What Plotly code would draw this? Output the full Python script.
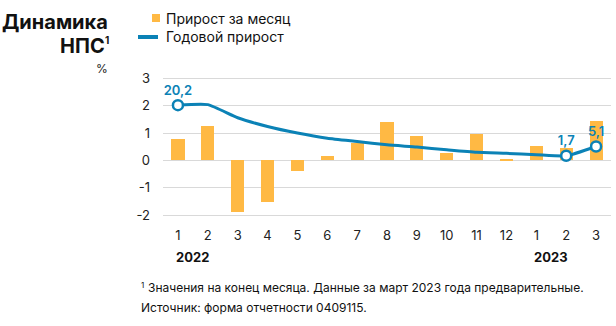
import plotly.graph_objects as go

months = ["1", "2", "3", "4", "5", "6", "7", "8", "9", "10", "11", "12", "1", "2", "3"]
years = ["2022", "2023"]
year_start_idx = [0, 12]
monthly_growth = [0.8, 1.25, -1.9, -1.53, -0.4, 0.16, 0.62, 1.4, 0.91, 0.28, 0.97, 0.04, 0.52, 0.45, 1.43]
annual_growth = [20.2, 20.4, 15.6, 12.4, 10.0, 8.1, 6.9, 5.7, 4.9, 3.9, 3.0, 2.6, 2.1, 1.7, 5.1]
labelled_idx = [0, 13, 14]

BAR = "#FFB944"
BLUE = "#0B82B6"
FONT = "Inter"
W, H = 616, 326
ML, MR, MT, MB = 163, 5, 77, 104
PW, PH = W - ML - MR, H - MT - MB

def px(x):
    return (x - ML) / PW

def py(y):
    return (H - MB - y) / PH

x = list(range(len(months)))
fig = go.Figure()
fig.add_trace(go.Bar(x=x, y=monthly_growth, marker=dict(color=BAR, line_width=0),
                     width=0.44, showlegend=False, hoverinfo="skip"))
fig.add_trace(go.Scatter(x=x, y=annual_growth, yaxis="y2", mode="lines",
                         line=dict(color=BLUE, width=3, shape="spline", smoothing=0.5),
                         showlegend=False, hoverinfo="skip"))
fig.add_trace(go.Scatter(x=[x[i] for i in labelled_idx], y=[annual_growth[i] for i in labelled_idx],
                         yaxis="y2", mode="markers+text",
                         marker=dict(size=10, color="white", line=dict(color=BLUE, width=2.5)),
                         text=[f"{annual_growth[i]:.1f}".replace(".", ",") for i in labelled_idx],
                         textposition="top center",
                         textfont=dict(family=FONT, size=13, color=BLUE, weight=600),
                         showlegend=False, hoverinfo="skip", cliponaxis=False))

yr = [-2.25, 3.05]
fig.update_layout(
    width=W, height=H, margin=dict(l=ML, r=MR, t=MT, b=MB),
    plot_bgcolor="white", paper_bgcolor="white",
    font=dict(family=FONT, size=13, color="#222222"),
    bargap=0,
    xaxis=dict(range=[-0.5, len(months) - 0.5], tickvals=x, ticktext=months,
               showgrid=False, zeroline=False, showline=False, ticks="",
               ticklabelstandoff=4, tickfont=dict(size=13)),
    yaxis=dict(range=yr, tickvals=[-2, -1, 0, 1, 2, 3], ticktext=["-2", "-1", "0", "1", "2", "3"],
               showgrid=True, gridcolor="#D9D9D9", gridwidth=1, zeroline=False,
               showline=False, ticks="", ticklabelstandoff=12, tickfont=dict(size=13)),
    yaxis2=dict(range=[v * 10 for v in yr], overlaying="y", visible=False),
)

ann = []
for yl, i in zip(years, year_start_idx):
    ann.append(dict(x=i, xref="x", y=py(257), yref="paper", text=f"<b>{yl}</b>",
                    showarrow=False, xanchor="left", yanchor="middle", xshift=-4,
                    font=dict(size=13, color="#111111")))
ann.append(dict(x=px(110), y=py(22), xref="paper", yref="paper", text="<b>Динамика</b>",
                showarrow=False, xanchor="right", yanchor="middle", font=dict(size=20, color="#111111")))
ann.append(dict(x=px(107), y=py(46), xref="paper", yref="paper", text="<b>НПС</b>",
                showarrow=False, xanchor="right", yanchor="middle", font=dict(size=20, color="#111111")))
ann.append(dict(x=px(103), y=py(40), xref="paper", yref="paper", text="<b>1</b>",
                showarrow=False, xanchor="left", yanchor="middle", font=dict(size=10, color="#111111")))
ann.append(dict(x=px(110), y=py(68), xref="paper", yref="paper", text="%",
                showarrow=False, xanchor="right", yanchor="middle", font=dict(size=12, color="#222222")))
ann.append(dict(x=px(164), y=py(18), xref="paper", yref="paper", text="Прирост за месяц",
                showarrow=False, xanchor="left", yanchor="middle", font=dict(size=14, color="#111111")))
ann.append(dict(x=px(164), y=py(37), xref="paper", yref="paper", text="Годовой прирост",
                showarrow=False, xanchor="left", yanchor="middle", font=dict(size=14, color="#111111")))
ann.append(dict(x=px(139), y=py(285), xref="paper", yref="paper", text="1",
                showarrow=False, xanchor="left", yanchor="middle", font=dict(size=8, color="#111111")))
ann.append(dict(x=px(146), y=py(287), xref="paper", yref="paper",
                text="Значения на конец месяца. Данные за март 2023 года предварительные.",
                showarrow=False, xanchor="left", yanchor="middle", align="left",
                font=dict(size=12, color="#111111")))
ann.append(dict(x=px(139), y=py(307), xref="paper", yref="paper",
                text="Источник: форма отчетности 0409115.",
                showarrow=False, xanchor="left", yanchor="middle", align="left",
                font=dict(size=12, color="#111111")))
fig.update_layout(annotations=ann)

fig.update_layout(shapes=[
    dict(type="rect", xref="paper", yref="paper", x0=px(152), x1=px(160), y0=py(22), y1=py(14),
         fillcolor=BAR, line_width=0),
    dict(type="line", xref="paper", yref="paper", x0=px(138), x1=px(158), y0=py(37), y1=py(37),
         line=dict(color=BLUE, width=4)),
])

fig.write_html("out.html")
